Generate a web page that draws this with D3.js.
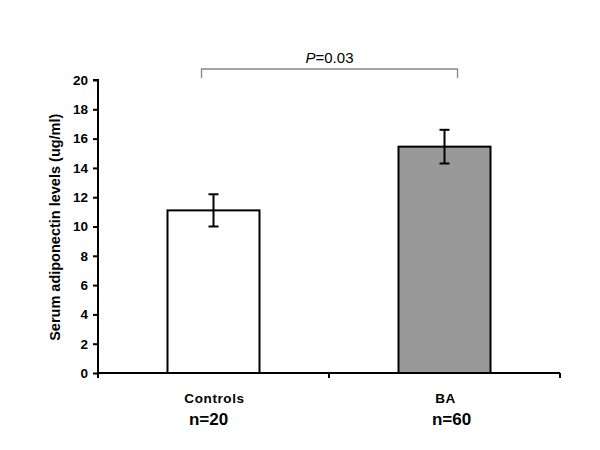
<!DOCTYPE html>
<html>
<head>
<meta charset="utf-8">
<script src="https://cdn.jsdelivr.net/npm/d3@7"></script>
<style>
  body { margin: 0; background: #fff; }
  text { font-family: "Liberation Sans", Arial, sans-serif; }
</style>
</head>
<body>
<div id="chart"></div>
<script>
// chart data
var groups = ["Controls", "BA"];
var groupN = ["n=20", "n=60"];
var means = [11.1, 15.45];
var errs = [1.1, 1.15];
var barFill = ["#ffffff", "#999999"];
var yTicks = [0, 2, 4, 6, 8, 10, 12, 14, 16, 18, 20];
var pLabel = "0.03";

var width = 600,
    height = 450;

var x = d3.scaleBand()
    .domain(groups)
    .range([98, 560])
    .paddingInner(0)
    .paddingOuter(0);

var y = d3.scaleLinear()
    .domain([0, 20])
    .range([373, 80]);

var svg = d3.select("#chart").append("svg")
    .attr("width", width)
    .attr("height", height);

// y axis
var yAxis = svg.append("g")
    .attr("transform", "translate(98,0)")
    .call(d3.axisLeft(y).tickValues(yTicks).tickSize(5).tickPadding(5));
yAxis.select(".domain").attr("stroke", "#000").attr("stroke-width", 2)
    .attr("d", "M-5," + y(20) + "H0V" + y(0));
yAxis.selectAll(".tick line").attr("stroke", "#000").attr("stroke-width", 2);
yAxis.selectAll(".tick text")
    .style("font-size", "13.5px")
    .style("font-weight", "bold")
    .attr("fill", "#000");

// bars
var bw = 92;
svg.selectAll(".bar")
    .data(groups)
    .enter()
    .append("rect")
    .attr("class", "bar")
    .attr("x", function (d) { return x(d) + x.bandwidth() / 2 - bw / 2; })
    .attr("width", bw)
    .attr("y", function (d, i) { return y(means[i]); })
    .attr("height", function (d, i) { return y(0) - y(means[i]); })
    .attr("fill", function (d, i) { return barFill[i]; })
    .attr("stroke", "#000")
    .attr("stroke-width", 2);

// error bars
var eb = svg.selectAll(".err")
    .data(groups)
    .enter()
    .append("g")
    .attr("class", "err");
eb.append("line")
    .attr("x1", function (d) { return x(d) + x.bandwidth() / 2; })
    .attr("x2", function (d) { return x(d) + x.bandwidth() / 2; })
    .attr("y1", function (d, i) { return y(means[i] + errs[i]); })
    .attr("y2", function (d, i) { return y(means[i] - errs[i]); })
    .attr("stroke", "#000").attr("stroke-width", 2);
[1, -1].forEach(function (s) {
    eb.append("line")
        .attr("x1", function (d) { return x(d) + x.bandwidth() / 2 - 5; })
        .attr("x2", function (d) { return x(d) + x.bandwidth() / 2 + 5; })
        .attr("y1", function (d, i) { return y(means[i] + s * errs[i]); })
        .attr("y2", function (d, i) { return y(means[i] + s * errs[i]); })
        .attr("stroke", "#000").attr("stroke-width", 2);
});

// x axis
var xAxis = svg.append("g")
    .attr("transform", "translate(0," + y(0) + ")");
xAxis.append("line")
    .attr("x1", 98).attr("x2", 560)
    .attr("stroke", "#000").attr("stroke-width", 2);
xAxis.selectAll(".xt")
    .data([98, 329, 560])
    .enter()
    .append("line")
    .attr("x1", function (d) { return d; })
    .attr("x2", function (d) { return d; })
    .attr("y1", 0).attr("y2", 5)
    .attr("stroke", "#000").attr("stroke-width", 2);

svg.selectAll(".glabel")
    .data(groups)
    .enter()
    .append("text")
    .attr("x", function (d) { return x(d) + x.bandwidth() / 2 + 1; })
    .attr("y", 403)
    .attr("text-anchor", "middle")
    .style("font-size", "13.5px")
    .style("font-weight", "bold")
    .style("letter-spacing", "0.6px")
    .text(function (d) { return d; });

svg.selectAll(".nlabel")
    .data(groupN)
    .enter()
    .append("text")
    .attr("x", function (d, i) { return x(groups[i]) + x.bandwidth() / 2 + (i == 0 ? -5 : 7); })
    .attr("y", 425)
    .attr("text-anchor", "middle")
    .style("font-size", "17px")
    .style("font-weight", "bold")
    .text(function (d) { return d; });

// y title
svg.append("text")
    .attr("transform", "translate(60," + y(9.95) + ") rotate(-90)")
    .attr("text-anchor", "middle")
    .style("font-size", "14.5px")
    .style("font-weight", "bold")
    .text("Serum adiponectin levels (ug/ml)");

// significance bracket
var bx1 = x(groups[0]) + x.bandwidth() / 2 - 12,
    bx2 = x(groups[1]) + x.bandwidth() / 2 + 13;
svg.append("path")
    .attr("d", "M" + bx1 + ",78V69H" + bx2 + "V78")
    .attr("fill", "none")
    .attr("stroke", "#888")
    .attr("stroke-width", 1.3);

var pt = svg.append("text")
    .attr("x", (bx1 + bx2) / 2)
    .attr("y", 63)
    .attr("text-anchor", "middle")
    .style("font-size", "15px");
pt.append("tspan").style("font-style", "italic").text("P");
pt.append("tspan").text("=" + pLabel);
</script>
</body>
</html>
